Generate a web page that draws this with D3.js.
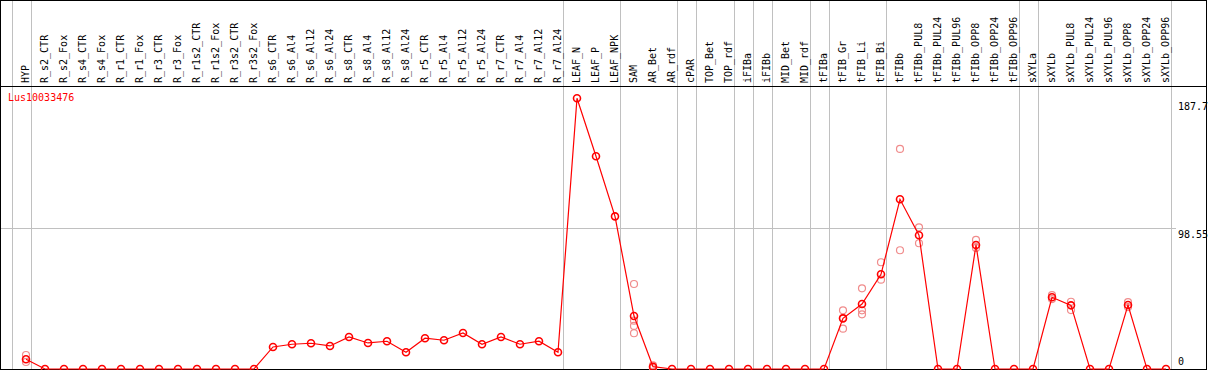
<!DOCTYPE html>
<html lang="en">
<head>
<meta charset="utf-8">
<title>Lus10033476</title>
<script src="https://cdn.jsdelivr.net/npm/d3@7"></script>
<style>
  body { margin: 0; background: #fff; }
  svg { display: block; font-family: "DejaVu Sans Mono", monospace; font-size: 10px; }
</style>
</head>
<body>
<svg id="chart"></svg>
<script>
// categories along the x axis
var categories = ["HYP","R_s2_CTR","R_s2_Fox","R_s4_CTR","R_s4_Fox","R_r1_CTR","R_r1_Fox","R_r3_CTR","R_r3_Fox",
  "R_r1s2_CTR","R_r1s2_Fox","R_r3s2_CTR","R_r3s2_Fox","R_s6_CTR","R_s6_Al4","R_s6_Al12","R_s6_Al24",
  "R_s8_CTR","R_s8_Al4","R_s8_Al12","R_s8_Al24","R_r5_CTR","R_r5_Al4","R_r5_Al12","R_r5_Al24",
  "R_r7_CTR","R_r7_Al4","R_r7_Al12","R_r7_Al24","LEAF_N","LEAF_P","LEAF_NPK","SAM","AR_Bet","AR_rdf",
  "cPAR","TOP_Bet","TOP_rdf","iFIBa","iFIBb","MID_Bet","MID_rdf","tFIBa","tFIB_Gr","tFIB_Li","tFIB_Bi",
  "tFIBb","tFIBb_PUL8","tFIBb_PUL24","tFIBb_PUL96","tFIBb_OPP8","tFIBb_OPP24","tFIBb_OPP96",
  "sXYLa","sXYLb","sXYLb_PUL8","sXYLb_PUL24","sXYLb_PUL96","sXYLb_OPP8","sXYLb_OPP24","sXYLb_OPP96"];

// mean expression per category
var means = [6.8,0,0,0,0,0,0,0,0,0,0,0,0,15.4,17.3,18.0,16.1,
  22.4,18.2,19.4,11.7,21.5,20.1,25.2,17.3,22.4,17.3,19.4,11.7,
  189.2,148.7,106.7,37.0,1.6,0,0,0,0,0,0,0,0,0,35.4,45.4,66.2,
  118.6,93.5,0,0,86.7,0,0,0,50.1,44.5,0,0,44.7,0,0];

// replicate values [category, value]
var replicateCats = ["HYP","HYP","SAM","SAM","SAM","SAM","AR_Bet","AR_Bet",
  "tFIB_Gr","tFIB_Gr","tFIB_Gr","tFIB_Li","tFIB_Li","tFIB_Li","tFIB_Bi","tFIB_Bi",
  "tFIBb","tFIBb","tFIBb_PUL8","tFIBb_PUL8","tFIBb_OPP8","tFIBb_OPP8",
  "sXYLb","sXYLb","sXYLb_PUL8","sXYLb_PUL8","sXYLb_OPP8","sXYLb_OPP8"];
var replicateVals = [9.8,4.9,59.4,33.8,30.1,25.0,2.6,0.6,
  41.0,28.2,35.6,56.4,41.0,38.2,74.6,62.4,
  153.8,83.0,99.0,87.9,90.2,84.6,
  51.7,48.9,47.0,41.2,46.8,43.3];

// first category of each tissue group (vertical separators)
var groupStarts = ["HYP","R_s2_CTR","LEAF_N","SAM","cPAR","TOP_Bet","iFIBa","iFIBb","MID_Bet",
  "tFIBa","tFIB_Gr","tFIBb","sXYLa","sXYLb"];

var yTicks = [0, 98.55, 187.7];
var geneName = "Lus10033476";

var W = 1209, H = 370;
var headerH = 86, plotBottom = 369;

var svg = d3.select("#chart").attr("width", W).attr("height", H);

var x = d3.scalePoint().domain(categories).range([26, 1166]);
var step = x.step();
var y = d3.scaleLinear().domain([0, 98.55]).range([plotBottom, 228]);

// group separators
var sepX = groupStarts.map(function(c) { return x(c) - 14.5; });
sepX.push(x(categories[categories.length - 1]) + step - 14.5);
svg.selectAll("line.sep").data(sepX).enter().append("line")
  .attr("x1", function(d) { return Math.round(d) + 0.5; })
  .attr("x2", function(d) { return Math.round(d) + 0.5; })
  .attr("y1", 0).attr("y2", plotBottom)
  .attr("stroke", "#c0c0c0").attr("stroke-width", 1);

// horizontal middle grid line
svg.append("line")
  .attr("x1", 1).attr("x2", 1176)
  .attr("y1", Math.round(y(98.55)) + 0.5).attr("y2", Math.round(y(98.55)) + 0.5)
  .attr("stroke", "#c0c0c0");

// borders
svg.append("rect").attr("x", 0.5).attr("y", 0.5).attr("width", 1206).attr("height", plotBottom)
  .attr("fill", "none").attr("stroke", "#000");
svg.append("line").attr("x1", 0).attr("x2", 1207).attr("y1", headerH + 0.5).attr("y2", headerH + 0.5)
  .attr("stroke", "#000");
svg.append("line").attr("x1", 0).attr("x2", 1207).attr("y1", plotBottom + 0.5).attr("y2", plotBottom + 0.5)
  .attr("stroke", "#000").attr("stroke-width", 1);

// rotated category labels
svg.selectAll("text.cat").data(categories).enter().append("text")
  .attr("transform", function(d) { return "translate(" + (x(d) + 3) + "," + 83 + ") rotate(-90)"; })
  .attr("text-anchor", "start")
  .attr("fill", "#000")
  .text(function(d) { return d; });

// y tick labels on the right
svg.selectAll("text.tick").data(yTicks).enter().append("text")
  .attr("x", 1178)
  .attr("y", function(d) { return d === 0 ? y(d) - 4 : Math.max(y(d), 100) + 10; })
  .attr("text-anchor", "start")
  .attr("fill", "#000")
  .text(function(d) { return d; });

// gene name
svg.append("text").attr("x", 8).attr("y", 101).attr("fill", "#ff0000").text(geneName);

// replicate circles
svg.selectAll("circle.rep").data(replicateVals).enter().append("circle")
  .attr("cx", function(d, i) { return x(replicateCats[i]); })
  .attr("cy", function(d) { return y(d); })
  .attr("r", 3.5)
  .attr("fill", "none").attr("stroke", "#f08c8c").attr("stroke-width", 1.2);

// mean line
var line = d3.line()
  .x(function(d, i) { return x(categories[i]); })
  .y(function(d) { return y(d); });
svg.append("path").datum(means).attr("d", line)
  .attr("fill", "none").attr("stroke", "#ff0000").attr("stroke-width", 1.2);

svg.selectAll("circle.mean").data(means).enter().append("circle")
  .attr("cx", function(d, i) { return x(categories[i]); })
  .attr("cy", function(d) { return y(d); })
  .attr("r", 3.5)
  .attr("fill", "none").attr("stroke", "#ff0000").attr("stroke-width", 1.6);
</script>
</body>
</html>
